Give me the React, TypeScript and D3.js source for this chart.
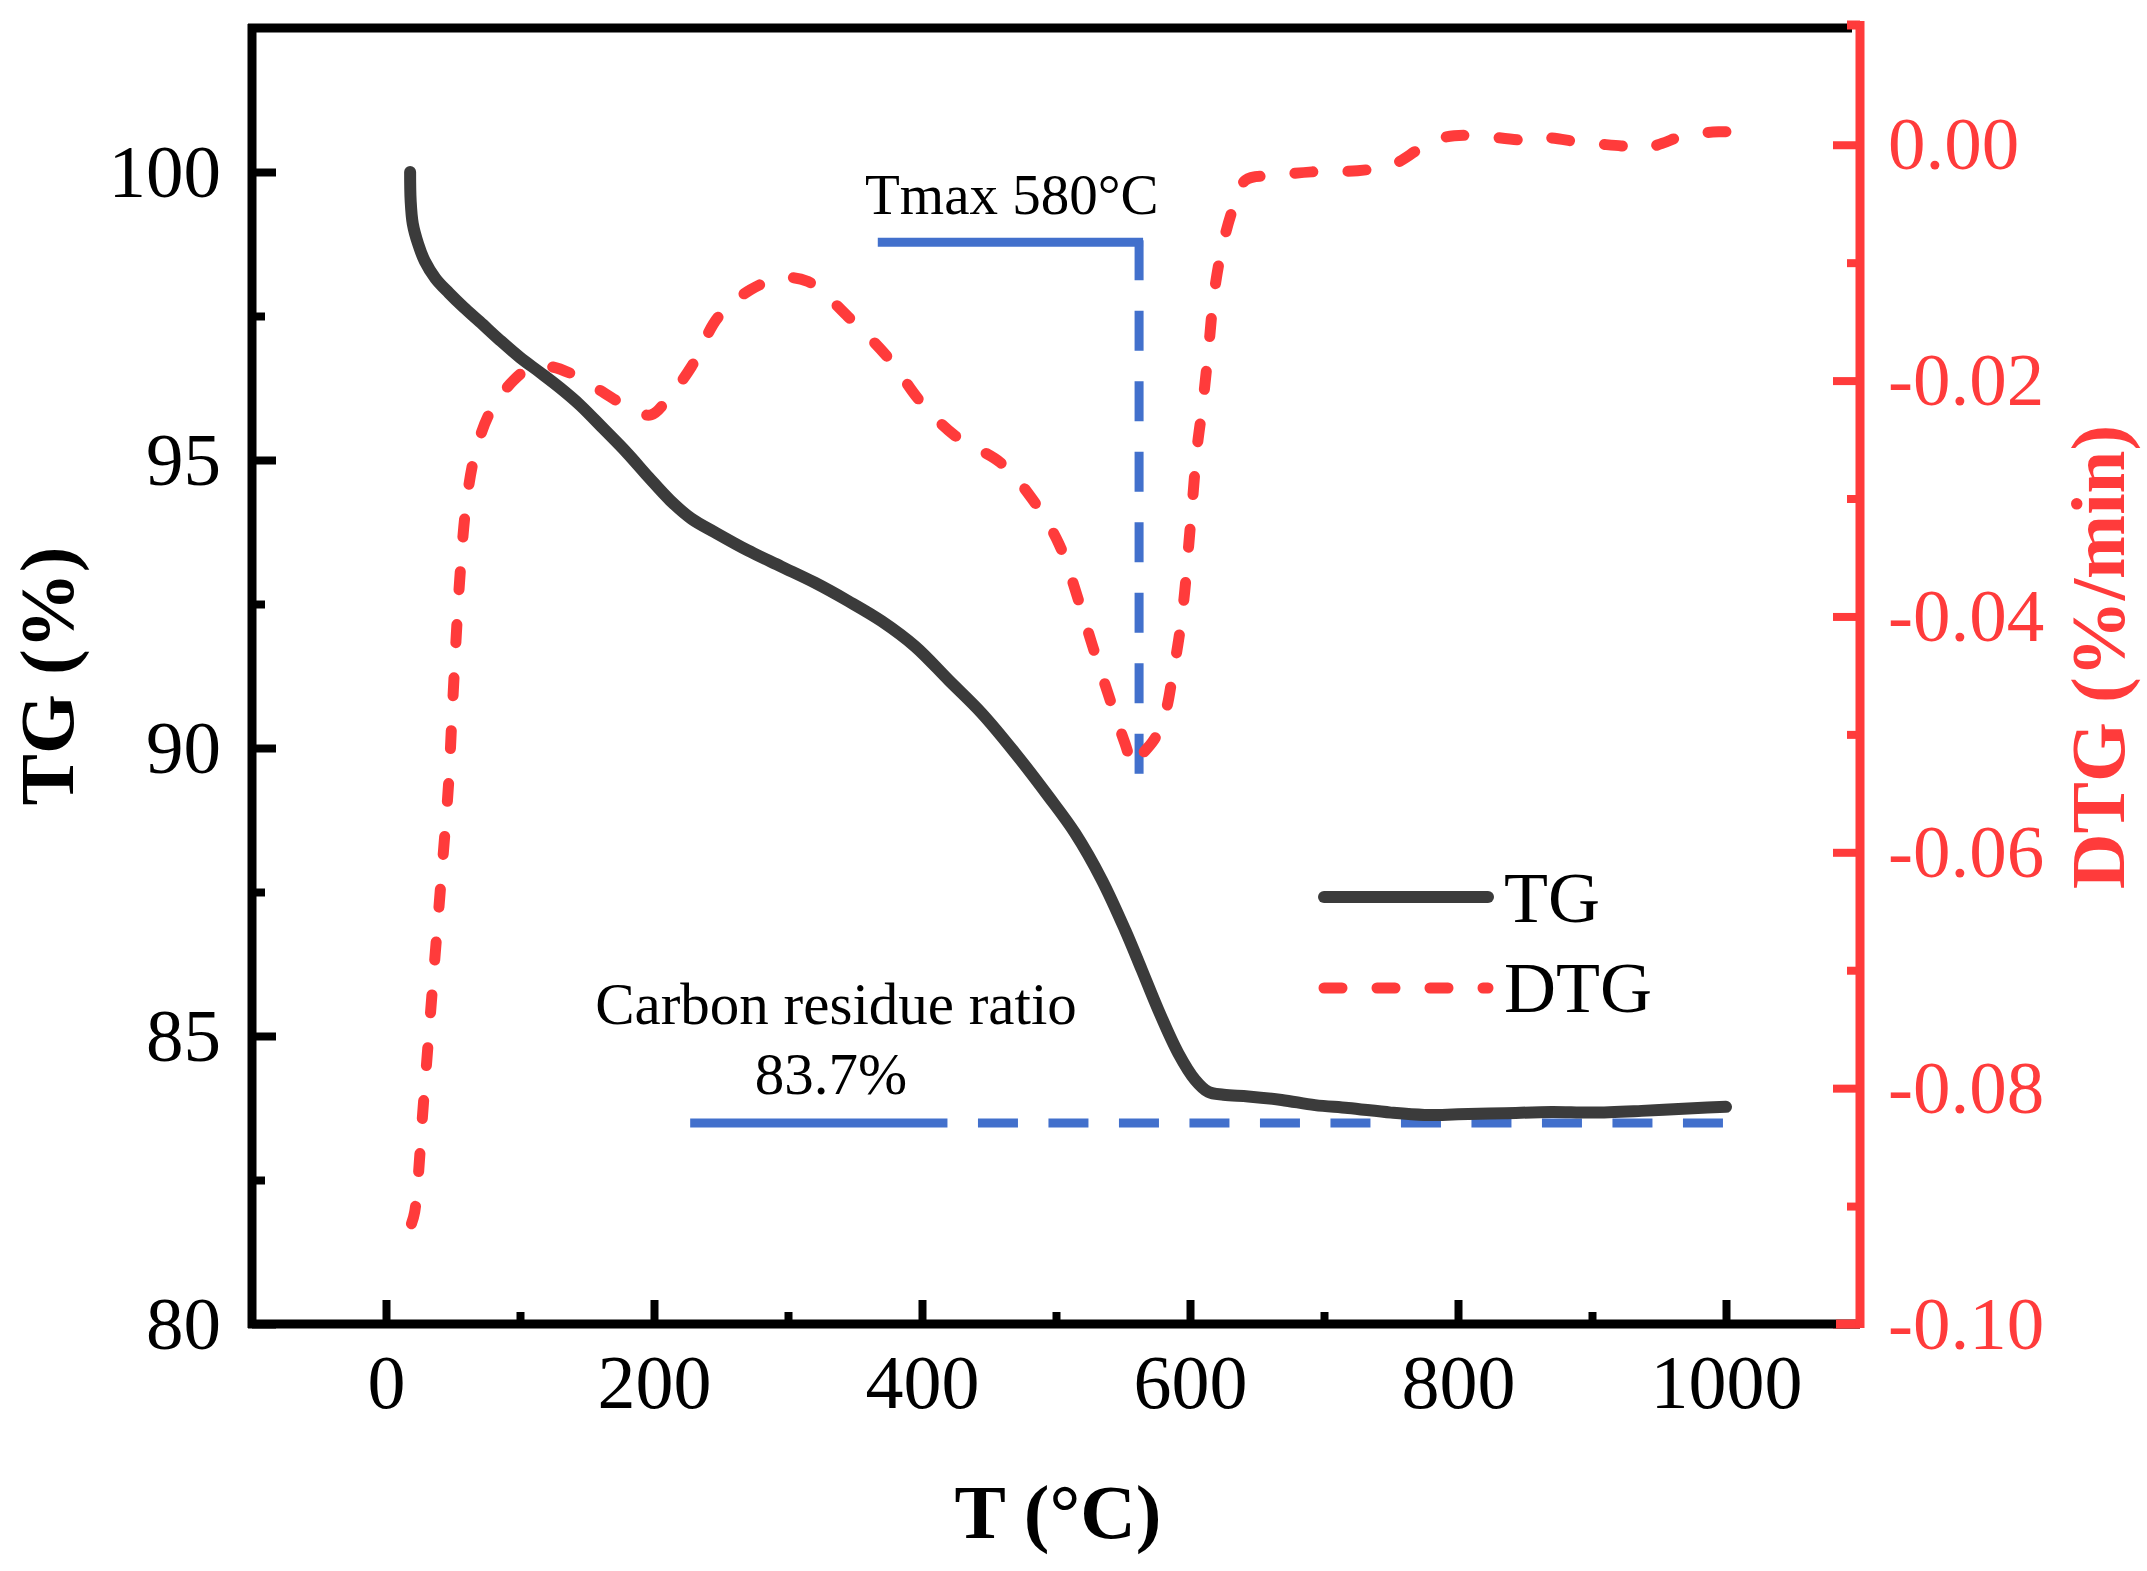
import React, { useEffect, useRef } from 'react';
import * as d3 from 'd3';

// TG curve: temperature (°C) and mass (%)
const tgTemp = [18, 18.4, 20, 24, 29, 37, 47, 58, 70, 85, 100, 115, 130, 145, 162, 180, 196, 212, 228, 245, 270, 295, 320, 345, 370, 395, 419.8, 444.7, 469.6, 494.4, 514.3, 534.2, 551.6, 564, 576.4, 591.3, 603.8, 613.7, 625, 643.5, 668.4, 693.3, 718, 750, 775, 800, 835, 870, 900, 937, 979, 1000];
const tgValue = [100.0, 99.5, 99.1, 98.75, 98.45, 98.15, 97.9, 97.65, 97.4, 97.08, 96.78, 96.52, 96.25, 95.95, 95.55, 95.12, 94.7, 94.3, 93.98, 93.75, 93.43, 93.15, 92.87, 92.55, 92.2, 91.76, 91.18, 90.6, 89.91, 89.16, 88.52, 87.71, 86.84, 86.15, 85.45, 84.7, 84.24, 84.03, 83.98, 83.95, 83.89, 83.8, 83.75, 83.67, 83.63, 83.64, 83.66, 83.68, 83.67, 83.7, 83.75, 83.77];

// DTG curve: temperature (°C) and rate (%/min)
const dtgTemp = [19, 21.4, 28, 34.2, 40.6, 46.7, 49.4, 55, 60, 66.5, 78, 95, 108, 122, 138, 155, 172, 186, 198, 212, 228, 248, 272, 295, 315, 345, 375, 399, 425, 459, 482, 502, 517, 527, 539, 551.6, 558, 565, 574, 582, 587, 591.5, 595.5, 599, 602, 605.2, 609.5, 613.7, 618, 624.4, 633, 641.5, 665, 691, 725, 751, 772, 789, 811, 849, 866, 892, 922, 939, 952, 969, 995, 1000];
const dtgValue = [-0.0915, -0.0905, -0.0812, -0.0722, -0.0631, -0.0542, -0.0481, -0.0369, -0.0304, -0.0262, -0.0226, -0.02, -0.0189, -0.0188, -0.0194, -0.0205, -0.0217, -0.0226, -0.0229, -0.0213, -0.0188, -0.0146, -0.0123, -0.0113, -0.0116, -0.0146, -0.0181, -0.0218, -0.0247, -0.027, -0.03, -0.0338, -0.0387, -0.0424, -0.0466, -0.0508, -0.0527, -0.0516, -0.0503, -0.048, -0.045, -0.042, -0.0385, -0.034, -0.03, -0.0258, -0.022, -0.0175, -0.0126, -0.0085, -0.0051, -0.003, -0.0026, -0.0023, -0.0022, -0.0017, -0.0003, 0.0006, 0.0008, 0.0004, 0.0006, 0.0002, -0.0001, -0.0003, 0.0001, 0.0008, 0.0011, 0.0011];

const xTicks = [0, 200, 400, 600, 800, 1000];
const xMinorTicks = [100, 300, 500, 700, 900];
const tgTicks = [80, 85, 90, 95, 100];
const tgMinorTicks = [82.5, 87.5, 92.5, 97.5];
const dtgTicks = [-0.1, -0.08, -0.06, -0.04, -0.02, 0];
const dtgMinorTicks = [-0.09, -0.07, -0.05, -0.03, -0.01];

// annotations
const tmaxFrom = 367;
const tmaxTemp = 562;
const tmaxLevel = 98.78; // TG scale
const tmaxBottom = -0.0534; // DTG scale
const residueLevel = 83.49;
const residueFrom = 227;
const residueSolidTo = 419;
const residueTo = 1000;

const W = 2147;
const H = 1571;
const FONT = '"Liberation Serif", "Times New Roman", serif';
const RED = '#ff3b3b';
const BLUE = '#4270cc';
const DARK = '#3b3b3b';

const App: React.FC = () => {
  const svgRef = useRef<SVGSVGElement>(null);

  useEffect(() => {
    if (!svgRef.current) return;
    const left = 252, right = 1860, top = 28, bottom = 1324;

    d3.select(svgRef.current).selectAll('*').remove();
    const svg = d3.select(svgRef.current).attr('width', W).attr('height', H);

    const x = d3.scaleLinear().domain([-100, 1100]).range([left, right]);
    const yTG = d3.scaleLinear().domain([80, 102.5]).range([bottom, top]);
    const yDTG = d3.scaleLinear().domain([-0.1, 0.0099]).range([bottom, top]);

    // axes
    const styleAxis = (g: any, color: string, size: number) => {
      g.select('.domain').remove();
      g.selectAll('line').attr('stroke', color).attr('stroke-width', 8);
      g.selectAll('text')
        .attr('fill', color)
        .style('font-family', FONT)
        .style('font-size', `${size}px`);
    };

    svg.append('g')
      .attr('transform', `translate(0,${bottom})`)
      .call(d3.axisBottom(x).tickValues(xTicks).tickSizeInner(-24).tickSizeOuter(0).tickPadding(30).tickFormat(d3.format('d')))
      .call(g => styleAxis(g, '#000', 76));
    svg.append('g')
      .attr('transform', `translate(0,${bottom})`)
      .call(d3.axisBottom(x).tickValues(xMinorTicks).tickSizeInner(-12).tickSizeOuter(0).tickFormat(() => ''))
      .call(g => styleAxis(g, '#000', 76));

    svg.append('g')
      .attr('transform', `translate(${left},0)`)
      .call(d3.axisLeft(yTG).tickValues(tgTicks).tickSizeInner(-24).tickSizeOuter(0).tickPadding(31).tickFormat(d3.format('d')))
      .call(g => styleAxis(g, '#000', 75));
    svg.append('g')
      .attr('transform', `translate(${left},0)`)
      .call(d3.axisLeft(yTG).tickValues(tgMinorTicks).tickSizeInner(-13).tickSizeOuter(0).tickFormat(() => ''))
      .call(g => styleAxis(g, '#000', 75));

    svg.append('g')
      .attr('transform', `translate(${right},0)`)
      .call(d3.axisRight(yDTG).tickValues(dtgTicks).tickSizeInner(-27).tickSizeOuter(0).tickPadding(28).tickFormat((d: any) => (+d).toFixed(2)))
      .call(g => styleAxis(g, RED, 75));
    svg.append('g')
      .attr('transform', `translate(${right},0)`)
      .call(d3.axisRight(yDTG).tickValues(dtgMinorTicks).tickSizeInner(-13).tickSizeOuter(0).tickFormat(() => ''))
      .call(g => styleAxis(g, RED, 75));

    // frame
    const frame = svg.append('g').attr('stroke-width', 9).attr('fill', 'none');
    frame.append('line').attr('x1', left - 4).attr('x2', 1852).attr('y1', top).attr('y2', top).attr('stroke', '#000');
    frame.append('line').attr('x1', left - 4).attr('x2', right).attr('y1', bottom).attr('y2', bottom).attr('stroke', '#000');
    frame.append('line').attr('x1', left).attr('x2', left).attr('y1', top - 4).attr('y2', bottom + 4).attr('stroke', '#000');
    frame.append('line').attr('x1', 1836).attr('x2', right).attr('y1', bottom).attr('y2', bottom).attr('stroke', RED);
    frame.append('line').attr('x1', 1847).attr('x2', right).attr('y1', top - 3).attr('y2', top - 3).attr('stroke', RED);
    frame.append('line').attr('x1', right).attr('x2', right).attr('y1', top - 7).attr('y2', bottom + 4).attr('stroke', RED);

    // axis titles
    svg.append('text')
      .attr('transform', `translate(73,676) rotate(-90)`)
      .attr('text-anchor', 'middle')
      .style('font-family', FONT).style('font-size', '77px').style('font-weight', 'bold')
      .text('TG (%)');
    svg.append('text')
      .attr('transform', `translate(2124,657) rotate(-90)`)
      .attr('text-anchor', 'middle')
      .attr('fill', RED)
      .style('font-family', FONT).style('font-size', '77px').style('font-weight', 'bold')
      .text('DTG (%/min)');
    svg.append('text')
      .attr('x', 1058).attr('y', 1538)
      .attr('text-anchor', 'middle')
      .style('font-family', FONT).style('font-size', '77px').style('font-weight', 'bold')
      .text('T (°C)');

    // annotation lines
    const ann = svg.append('g').attr('stroke', BLUE).attr('stroke-width', 9).attr('fill', 'none');
    ann.append('line')
      .attr('x1', x(tmaxFrom)).attr('x2', x(tmaxTemp) + 4)
      .attr('y1', yTG(tmaxLevel)).attr('y2', yTG(tmaxLevel));
    ann.append('line')
      .attr('x1', x(tmaxTemp)).attr('x2', x(tmaxTemp))
      .attr('y1', yTG(tmaxLevel) - 2).attr('y2', yDTG(tmaxBottom))
      .attr('stroke-dasharray', '40 30.5');
    ann.append('line')
      .attr('x1', x(residueFrom)).attr('x2', x(residueSolidTo))
      .attr('y1', yTG(residueLevel)).attr('y2', yTG(residueLevel));
    ann.append('line')
      .attr('x1', x(residueSolidTo)).attr('x2', x(residueTo))
      .attr('y1', yTG(residueLevel)).attr('y2', yTG(residueLevel))
      .attr('stroke-dasharray', '40 30.5').attr('stroke-dashoffset', 40);

    // curves
    const tgData = tgTemp.map((t, i) => [t, tgValue[i]] as [number, number]);
    const dtgData = dtgTemp.map((t, i) => [t, dtgValue[i]] as [number, number]);

    const tgLine = d3.line<[number, number]>()
      .x(d => x(d[0])).y(d => yTG(d[1]))
      .curve(d3.curveCatmullRom.alpha(0.5));
    const dtgLine = d3.line<[number, number]>()
      .x(d => x(d[0])).y(d => yDTG(d[1]))
      .curve(d3.curveCatmullRom.alpha(0.5));

    svg.append('path')
      .datum(dtgData)
      .attr('d', dtgLine)
      .attr('fill', 'none').attr('stroke', RED).attr('stroke-width', 11)
      .attr('stroke-linecap', 'round').attr('stroke-linejoin', 'round')
      .attr('stroke-dasharray', '18 35');
    svg.append('path')
      .datum(tgData)
      .attr('d', tgLine)
      .attr('fill', 'none').attr('stroke', DARK).attr('stroke-width', 12)
      .attr('stroke-linecap', 'round').attr('stroke-linejoin', 'round');

    // annotation text
    const label = (tx: number, ty: number, s: string, anchor: string, size: number) =>
      svg.append('text')
        .attr('x', tx).attr('y', ty).attr('text-anchor', anchor)
        .style('font-family', FONT).style('font-size', `${size}px`)
        .text(s);
    label(865, 214, 'Tmax 580°C', 'start', 57);
    label(836, 1024, 'Carbon residue ratio', 'middle', 59);
    label(831, 1094, '83.7%', 'middle', 59);

    // legend
    const leg = svg.append('g');
    leg.append('line')
      .attr('x1', 1324).attr('x2', 1488).attr('y1', 897).attr('y2', 897)
      .attr('stroke', DARK).attr('stroke-width', 12).attr('stroke-linecap', 'round');
    leg.append('line')
      .attr('x1', 1324).attr('x2', 1488).attr('y1', 988).attr('y2', 988)
      .attr('stroke', RED).attr('stroke-width', 11).attr('stroke-linecap', 'round')
      .attr('stroke-dasharray', '18 35');
    label(1504, 922, 'TG', 'start', 72);
    label(1504, 1012, 'DTG', 'start', 72);
  }, []);

  return (
    <div style={{ position: 'absolute', left: 0, top: 0, background: '#fff' }}>
      <svg ref={svgRef} style={{ display: 'block' }} />
    </div>
  );
};

export default App;
